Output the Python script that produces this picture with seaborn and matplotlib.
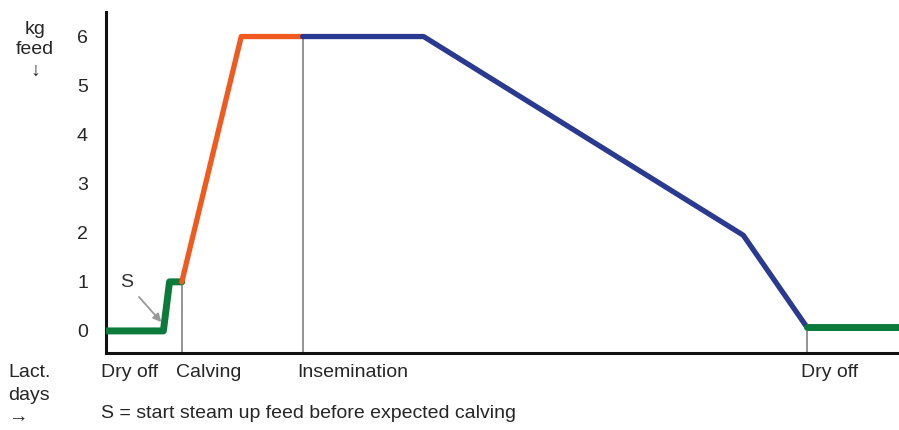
import numpy as np
import pandas as pd
import matplotlib
matplotlib.use('Agg')
import matplotlib.pyplot as plt
import matplotlib.transforms as mtransforms
import seaborn as sns

# Feed plan over the lactation (x = days from calving, y = kg feed)
dry_x = [-37, -9, -6, 0]
dry_y = [0, 0, 1, 1]
rise_x = [0, 29, 59]
rise_y = [1, 6, 6]
lact_x = [59, 118, 274, 305]
lact_y = [6, 6, 1.95, 0.08]
dry2_x = [305, 350]
dry2_y = [0.08, 0.08]

event_x = [-37, 0, 59, 305]
event_labels = ['Dry off', 'Calving', 'Insemination', 'Dry off']
marker_x = [0, 59, 305]
marker_top = [1, 6, 0.08]

green = '#0b7a3a'
orange = '#f05a1f'
blue = '#2b3a91'
text_color = '#262626'

sns.set_style('white')
plt.rcParams['font.family'] = ['Liberation Sans', 'DejaVu Sans']

fig = plt.figure(figsize=(8.99, 4.30), dpi=100)
ax = fig.add_axes([106 / 899, 1 - 353 / 430, 793 / 899, 341 / 430])

ylo, yhi = -0.45, 6.5
ax.vlines(marker_x, ylo, marker_top, color='#8a8a8a', lw=1.3, zorder=1)

sns.lineplot(x=dry_x, y=dry_y, color=green, lw=5, sort=False, ax=ax, zorder=3)
sns.lineplot(x=rise_x, y=rise_y, color=orange, lw=3.8, sort=False, ax=ax, zorder=3)
sns.lineplot(x=lact_x, y=lact_y, color=blue, lw=3.8, sort=False, ax=ax, zorder=3)
sns.lineplot(x=dry2_x, y=dry2_y, color=green, lw=5, sort=False, ax=ax, zorder=3)

ax.set_xlim(-37, 350)
ax.set_ylim(ylo, yhi)

fs = 14
ax.set_yticks(range(0, 7))
ax.tick_params(axis='y', length=0, pad=13, labelsize=fs, labelcolor=text_color)
ax.set_xticks(event_x)
ax.set_xticklabels(event_labels, ha='left')
ax.tick_params(axis='x', length=0, pad=8, labelsize=fs, labelcolor=text_color)
shift = mtransforms.ScaledTranslation(-0.055, 0, fig.dpi_scale_trans)
for lbl in ax.get_xticklabels():
    lbl.set_transform(lbl.get_transform() + shift)

for side in ['top', 'right']:
    ax.spines[side].set_visible(False)
for side in ['left', 'bottom']:
    ax.spines[side].set_linewidth(2.2)
    ax.spines[side].set_color('#111111')

# S annotation
ax.annotate('S', xy=(-10, 0.18), xytext=(-27, 0.98), fontsize=fs,
            color='#333333', ha='center', va='center',
            arrowprops=dict(arrowstyle='-|>', color='#999999', lw=1.3,
                            shrinkA=3, shrinkB=0, mutation_scale=12))

fig.text(35 / 899, 1 - 50 / 430, 'kg\nfeed\n\u2193', ha='center', va='center',
         fontsize=fs, color=text_color, linespacing=1.3)
fig.text(8 / 899, 1 - 395 / 430, 'Lact.\ndays\n\u2192', ha='left', va='center',
         fontsize=fs, color=text_color, linespacing=1.4)
fig.text(101 / 899, 1 - 414 / 430, 'S = start steam up feed before expected calving',
         ha='left', va='center', fontsize=fs, color=text_color)

fig.savefig('out.png', dpi=100)
